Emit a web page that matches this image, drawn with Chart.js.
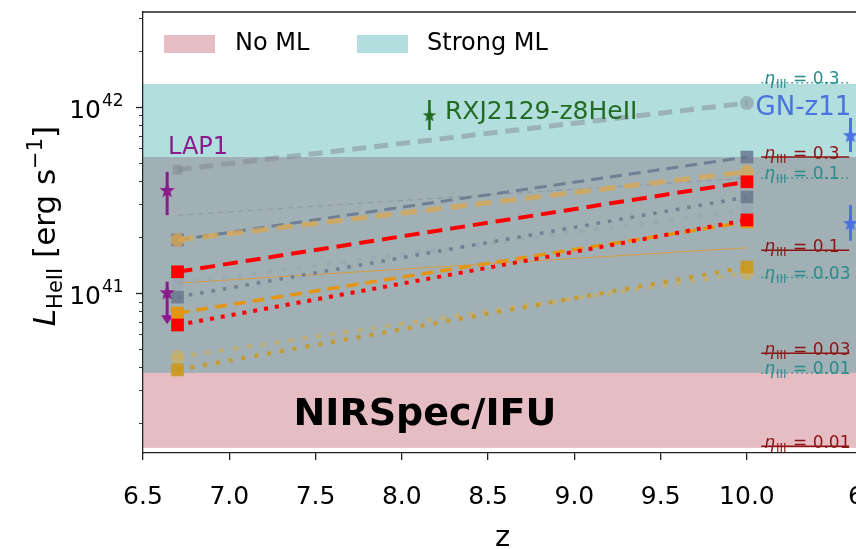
<!DOCTYPE html>
<html>
<head>
<meta charset="utf-8">
<script src="https://cdn.jsdelivr.net/npm/chart.js@4.4.1/dist/chart.umd.min.js"></script>
<style>
  html, body { margin: 0; padding: 0; background: #fff; overflow: hidden; }
  #wrap { width: 856px; height: 549px; }
</style>
</head>
<body>
<div id="wrap"><canvas id="heChart" width="856" height="549"></canvas></div>
<script>
// Redshift grid of the model tracks
const redshifts = [6.7, 10.0];

// HeII luminosity of each model track at z = 6.7 and z = 10 [erg/s]
const trackGnz11 = [4.6e41, 1.05e42];
const trackGrayThin = [2.62e41, 4.15e41];
const trackGrayDash = [1.93e41, 5.38e41];
const trackTanDash = [1.93e41, 4.48e41];
const trackRedDash = [1.30e41, 3.96e41];
const trackGrayFaint = [1.13e41, 2.79e41];
const trackOrangeThin = [1.13e41, 1.75e41];
const trackGrayDot = [9.5e40, 3.28e41];
const trackOrangeDash = [7.8e40, 2.41e41];
const trackRedDot = [6.73e40, 2.47e41];
const trackGoldFaint = [4.53e40, 1.28e41];
const trackGoldDot = [3.86e40, 1.38e41];

// Observed HeII emitters
const lap1Z = [6.64];
const lap1L = [3.58e41];
const lap1Range = [[2.62e41, 4.48e41]];
const lap1LimZ = [6.64];
const lap1LimL = [1.01e41];
const lap1LimBar = [1.15e41, 6.8e40];
const rxjZ = [8.16];
const rxjL = [9.06e41];
const rxjRange = [[7.52e41, 1.09e42]];
const gnZ = [10.6, 10.6];
const gnL = [7.06e41, 2.38e41];
const gnRange = [[5.73e41, 8.73e41], [1.91e41, 2.97e41]];

// Shaded luminosity ranges (eta_III = 0.01 ... 0.3)
const noMLBand = [1.47e40, 5.38e41];
const strongMLBand = [3.72e40, 1.33e42];
const etaLabels = ['0.3', '0.1', '0.03', '0.01'];
const etaNoML = [5.38e41, 1.70e41, 4.75e40, 1.50e40];
const etaStrongML = [1.35e42, 4.15e41, 1.21e41, 3.72e40];

// Axes
const xTicks = [6.5, 7.0, 7.5, 8.0, 8.5, 9.0, 9.5, 10.0];
const yMajor = [1e41, 1e42];
const yMinor = [2e40, 3e40, 4e40, 5e40, 6e40, 7e40, 8e40, 9e40,
                2e41, 3e41, 4e41, 5e41, 6e41, 7e41, 8e41, 9e41, 2e42, 3e42];
const zRange = [6.5, 10.632];
const lRange = [1.38e40, 3.24e42];

const FONT = '"DejaVu Sans", "Liberation Sans", sans-serif';
const PINK = 'rgba(172,38,55,0.3)';
const TEAL = 'rgba(0,145,145,0.3)';

// filled five-point star used as marker
function starPath(ctx, x, y, r) {
  ctx.beginPath();
  for (let i = 0; i < 10; i++) {
    const rr = i % 2 === 0 ? r : r * 0.42;
    const a = -Math.PI / 2 + i * Math.PI / 5;
    const px = x + rr * Math.cos(a), py = y + rr * Math.sin(a);
    if (i === 0) ctx.moveTo(px, py); else ctx.lineTo(px, py);
  }
  ctx.closePath();
}
function starImage(color, r) {
  const c = document.createElement('canvas');
  c.width = c.height = Math.ceil(r * 2 + 2);
  const g = c.getContext('2d');
  g.fillStyle = color;
  starPath(g, c.width / 2, c.height / 2 + r * 0.1, r);
  g.fill();
  return c;
}

function pts(xs, ys) { return xs.map((x, i) => ({ x: x, y: ys[i] })); }

function track(label, data, color, width, dash, marker, radius, markerColor) {
  return {
    label: label,
    data: pts(redshifts, data),
    borderColor: color,
    borderWidth: width,
    borderDash: dash,
    borderCapStyle: 'butt',
    showLine: true,
    pointStyle: marker || false,
    pointRadius: marker ? radius : 0,
    pointBackgroundColor: markerColor || color,
    pointBorderWidth: 0
  };
}
function obs(label, xs, ys, color, r) {
  return {
    label: label,
    data: pts(xs, ys),
    showLine: false,
    clip: false,
    pointStyle: starImage(color, r),
    pointRadius: r
  };
}

const datasets = [
  obs('LAP1', lap1Z, lap1L, '#8b1a8b', 8),
  obs('LAP1 limit', lap1LimZ, lap1LimL, '#8b1a8b', 8),
  obs('RXJ2129-z8HeII', rxjZ, rxjL, '#1f6b1f', 7),
  obs('GN-z11', gnZ, gnL, '#4a72e0', 8),
  track('red dotted', trackRedDot, '#ff0000', 4, [4, 7], 'rect', 9),
  track('red dashed', trackRedDash, '#ff0000', 4, [15, 8], 'rect', 9),
  track('orange dashed', trackOrangeDash, 'rgb(226,150,20)', 3.5, [12, 7], 'rect', 9),
  track('gray dotted', trackGrayDot, 'rgba(105,120,140,0.85)', 3.5, [3.5, 8], 'rect', 9),
  track('gray faint', trackGrayFaint, 'rgba(150,162,178,0.55)', 4, [5, 10], 'rect', 8),
  track('gold dotted', trackGoldDot, 'rgba(205,150,20,0.85)', 4, [4, 9], 'rect', 9),
  track('gold faint', trackGoldFaint, 'rgba(215,175,70,0.55)', 4, [5, 9], 'circle', 7),
  track('orange thin', trackOrangeThin, 'rgba(230,150,30,0.75)', 1, [], false, 0),
  track('tan dashed', trackTanDash, 'rgba(220,168,80,0.75)', 5, [16, 9], 'circle', 7),
  track('gray dashed', trackGrayDash, 'rgba(100,115,140,0.8)', 3, [12, 7], 'rect', 9),
  track('gray thin', trackGrayThin, 'rgba(140,150,165,0.85)', 1.2, [6, 4], false, 0),
  track('GN-z11 track', trackGnz11, 'rgba(130,135,145,0.5)', 5, [14, 8], 'rect', 7)
];
// circle at the GN-z11 end of the top track
datasets[datasets.length - 1].pointStyle = ['rect', 'circle'];

function text(ctx, str, x, y, font, color, align, base) {
  ctx.font = font;
  ctx.fillStyle = color;
  ctx.textAlign = align || 'left';
  ctx.textBaseline = base || 'alphabetic';
  ctx.fillText(str, x, y);
}

// "eta_III = v" label, right part of the plot
function etaLabel(ctx, x, yBase, value, color) {
  ctx.textAlign = 'left';
  ctx.textBaseline = 'alphabetic';
  ctx.fillStyle = color;
  ctx.font = 'italic 17px ' + FONT;
  ctx.fillText('η', x, yBase);
  let cx = x + ctx.measureText('η').width + 1;
  ctx.font = '12px ' + FONT;
  ctx.fillText('III', cx, yBase + 4);
  cx += ctx.measureText('III').width + 1;
  ctx.font = '17px ' + FONT;
  ctx.fillText(' = ' + value, cx, yBase);
}

const bandPlugin = {
  id: 'bands',
  beforeDatasetsDraw(chart) {
    const { ctx, chartArea: a, scales: { x, y } } = chart;
    ctx.save();
    const band = (lim, color) => {
      const top = y.getPixelForValue(lim[1]), bot = y.getPixelForValue(lim[0]);
      ctx.fillStyle = color;
      ctx.fillRect(a.left, top, a.right - a.left, bot - top);
    };
    band(noMLBand, PINK);
    band(strongMLBand, TEAL);

    // error bars under the star markers
    ctx.lineCap = 'butt';
    const vbar = (z, lo, hi, color, w) => {
      const px = x.getPixelForValue(z);
      ctx.strokeStyle = color;
      ctx.lineWidth = w;
      ctx.beginPath();
      ctx.moveTo(px, y.getPixelForValue(lo));
      ctx.lineTo(px, y.getPixelForValue(hi));
      ctx.stroke();
    };
    lap1Z.forEach((z, i) => vbar(z, lap1Range[i][0], lap1Range[i][1], '#8b1a8b', 3));
    rxjZ.forEach((z, i) => vbar(z, rxjRange[i][0], rxjRange[i][1], '#1f6b1f', 2.5));
    gnZ.forEach((z, i) => vbar(z, gnRange[i][0], gnRange[i][1], '#4a72e0', 3));
    // LAP1 upper limit with arrow
    vbar(lap1LimZ[0], lap1LimBar[0], lap1LimBar[1] * 1.06, '#8b1a8b', 3);
    const ax = x.getPixelForValue(lap1LimZ[0]), ay = y.getPixelForValue(lap1LimBar[1]);
    ctx.fillStyle = '#8b1a8b';
    ctx.beginPath();
    ctx.moveTo(ax - 6, ay - 9);
    ctx.lineTo(ax + 6, ay - 9);
    ctx.lineTo(ax, ay);
    ctx.closePath();
    ctx.fill();
    ctx.restore();
  },
  afterDatasetsDraw(chart) {
    const { ctx, chartArea: a, scales: { x, y } } = chart;
    ctx.save();

    // source names
    text(ctx, 'LAP1', x.getPixelForValue(6.645), y.getPixelForValue(6.0e41), '24px ' + FONT, '#8b1a8b', 'left', 'middle');
    text(ctx, 'RXJ2129-z8HeII', x.getPixelForValue(8.25), y.getPixelForValue(9.3e41), '25px ' + FONT, '#236b23', 'left', 'middle');
    text(ctx, 'GN-z11', x.getPixelForValue(10.05), y.getPixelForValue(9.9e41), '26px ' + FONT, '#4a72e0', 'left', 'middle');
    text(ctx, 'NIRSpec/IFU', x.getPixelForValue(8.134), y.getPixelForValue(2.2e40), 'bold 38px ' + FONT, '#000', 'center', 'middle');

    // eta_III levels
    const lx = x.getPixelForValue(10.1);
    etaNoML.forEach((v, i) => {
      const py = y.getPixelForValue(v);
      etaLabel(ctx, lx, py + 2, etaLabels[i], '#8c1414');
      ctx.strokeStyle = '#8c1414';
      ctx.lineWidth = 1.5;
      ctx.setLineDash([]);
      ctx.beginPath(); ctx.moveTo(lx - 3, py); ctx.lineTo(lx + 85, py); ctx.stroke();
    });
    etaStrongML.forEach((v, i) => {
      const py = y.getPixelForValue(v);
      etaLabel(ctx, lx, py + 1, etaLabels[i], '#2a8c8c');
      ctx.strokeStyle = 'rgba(42,140,140,0.8)';
      ctx.lineWidth = 1.5;
      ctx.setLineDash([2, 3]);
      ctx.beginPath(); ctx.moveTo(lx - 3, py); ctx.lineTo(lx + 85, py); ctx.stroke();
    });
    ctx.setLineDash([]);

    // legend
    ctx.fillStyle = PINK; ctx.fillRect(164, 35, 51, 18);
    text(ctx, 'No ML', 235, 44, '24px ' + FONT, '#000', 'left', 'middle');
    ctx.fillStyle = TEAL; ctx.fillRect(357, 35, 51, 18);
    text(ctx, 'Strong ML', 427, 44, '24px ' + FONT, '#000', 'left', 'middle');

    // top spine
    ctx.strokeStyle = '#222';
    ctx.lineWidth = 1.3;
    ctx.beginPath(); ctx.moveTo(a.left, a.top); ctx.lineTo(a.right, a.top); ctx.stroke();
    ctx.restore();
  },
  afterDraw(chart) {
    const { ctx, chartArea: a, scales: { x, y } } = chart;
    ctx.save();
    ctx.strokeStyle = '#222';
    // log y ticks
    yMajor.concat(yMinor).forEach(v => {
      const py = Math.round(y.getPixelForValue(v)) + 0.5;
      const major = yMajor.includes(v);
      ctx.lineWidth = major ? 1.3 : 0.9;
      ctx.beginPath(); ctx.moveTo(a.left, py); ctx.lineTo(a.left - (major ? 7 : 4), py); ctx.stroke();
    });
    yMajor.forEach(v => {
      const py = y.getPixelForValue(v);
      text(ctx, '10', 101, py + 11, '25px ' + FONT, '#000', 'right');
      text(ctx, String(Math.round(Math.log10(v))), 102, py - 1, '17px ' + FONT, '#000', 'left');
    });
    // first tick of the neighbouring panel
    text(ctx, '6.5', 848, 497, '25px ' + FONT, '#000', 'left', 'middle');
    // axis titles
    text(ctx, 'z', (a.left + a.right) / 2 + 3, 546, '29px ' + FONT, '#000', 'center');
    ctx.translate(55, 226);
    ctx.rotate(-Math.PI / 2);
    const parts = [
      ['L', 'italic 31px ' + FONT, 0],
      ['HeII', '21px ' + FONT, 7],
      [' [erg s', '31px ' + FONT, 0],
      ['−1', '21px ' + FONT, -13],
      [']', '31px ' + FONT, 0]
    ];
    let w = 0;
    parts.forEach(p => { ctx.font = p[1]; w += ctx.measureText(p[0]).width; });
    let cx = -w / 2;
    parts.forEach(p => {
      text(ctx, p[0], cx, p[2], p[1], '#000', 'left');
      ctx.font = p[1];
      cx += ctx.measureText(p[0]).width;
    });
    ctx.restore();
  }
};

new Chart(document.getElementById('heChart'), {
  type: 'scatter',
  data: { datasets: datasets },
  options: {
    responsive: false,
    animation: false,
    events: [],
    layout: { autoPadding: false, padding: { top: 12, right: 0, left: 0, bottom: 0 } },
    plugins: { legend: { display: false }, tooltip: { enabled: false } },
    scales: {
      x: {
        type: 'linear',
        min: zRange[0],
        max: zRange[1],
        afterBuildTicks: s => { s.ticks = xTicks.map(v => ({ value: v })); },
        afterFit: s => { s.height = 96; s.paddingRight = 0; s.paddingLeft = 0; },
        ticks: {
          color: '#000',
          font: { family: FONT, size: 25 },
          padding: 22,
          maxRotation: 0,
          autoSkip: false,
          callback: v => v.toFixed(1)
        },
        grid: { drawOnChartArea: false, drawTicks: true, tickLength: 7, color: '#222', lineWidth: 1.3 },
        border: { display: true, color: '#222', width: 1.3 }
      },
      y: {
        type: 'logarithmic',
        min: lRange[0],
        max: lRange[1],
        afterFit: s => { s.width = 143; s.paddingTop = 0; s.paddingBottom = 0; },
        ticks: { display: false },
        grid: { display: false },
        border: { display: true, color: '#222', width: 1.3 }
      }
    }
  },
  plugins: [bandPlugin]
});
</script>
</body>
</html>
